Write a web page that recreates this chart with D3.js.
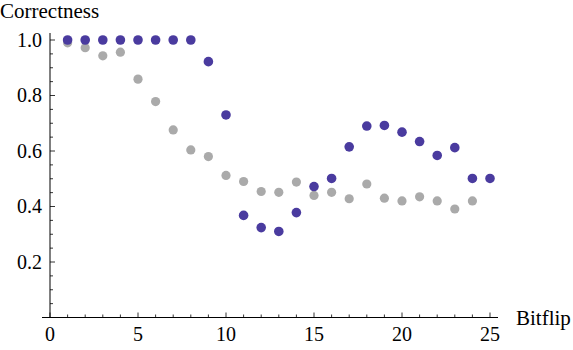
<!DOCTYPE html>
<html>
<head>
<meta charset="utf-8">
<script src="https://cdn.jsdelivr.net/npm/d3@7"></script>
<style>
  body { margin: 0; background: #fff; }
</style>
</head>
<body>
<script>
'use strict';

// bitflip positions
const bitflips = d3.range(1, 26);
// blue series (correctness per bitflip)
const blueValues = [1.0, 1.0, 1.0, 1.0, 1.0, 1.0, 1.0, 1.0, 0.922, 0.730,
  0.368, 0.324, 0.310, 0.378, 0.472, 0.501, 0.615, 0.690, 0.692, 0.668,
  0.634, 0.584, 0.612, 0.501, 0.501];
// gray series (bitflips 1..24)
const grayValues = [0.990, 0.972, 0.943, 0.956, 0.859, 0.778, 0.676, 0.604, 0.580, 0.512,
  0.490, 0.454, 0.451, 0.488, 0.440, 0.451, 0.428, 0.481, 0.430, 0.420,
  0.435, 0.420, 0.391, 0.420];
const xTicks = [0, 5, 10, 15, 20, 25];
const yTicks = [0.2, 0.4, 0.6, 0.8, 1.0];

const width = 573, height = 350;
const serif = '"Liberation Serif", "Times New Roman", "DejaVu Serif", serif';

const svg = d3.select('body').append('svg')
  .attr('width', width)
  .attr('height', height)
  .attr('font-family', serif);

const x = d3.scaleLinear().domain([0, 25]).range([50, 490]);
const y = d3.scaleLinear().domain([0, 1]).range([317.5, 40]);

// x axis: line plus ticks pointing up
const xAxisG = svg.append('g');
xAxisG.append('line')
  .attr('x1', 42).attr('x2', 498)
  .attr('y1', y(0)).attr('y2', y(0))
  .attr('stroke', '#000').attr('stroke-width', 1);
xAxisG.selectAll('.xminor')
  .data(d3.range(0, 26))
  .enter().append('line')
  .attr('x1', (d) => x(d)).attr('x2', (d) => x(d))
  .attr('y1', y(0))
  .attr('y2', (d) => y(0) - (d % 5 === 0 ? 5 : 3))
  .attr('stroke', '#000').attr('stroke-width', 0.8);
xAxisG.selectAll('.xlabel')
  .data(xTicks)
  .enter().append('text')
  .attr('x', (d) => x(d))
  .attr('y', 341)
  .attr('text-anchor', 'middle')
  .attr('font-size', 20)
  .text((d) => d);

// y axis: line plus ticks pointing right
const yAxisG = svg.append('g');
yAxisG.append('line')
  .attr('x1', x(0)).attr('x2', x(0))
  .attr('y1', 33).attr('y2', y(0))
  .attr('stroke', '#000').attr('stroke-width', 1);
yAxisG.selectAll('.yminor')
  .data(d3.range(1, 21).map((i) => i * 0.05))
  .enter().append('line')
  .attr('x1', x(0))
  .attr('x2', (d, i) => x(0) + ((i + 1) % 4 === 0 ? 5 : 3))
  .attr('y1', (d) => y(d)).attr('y2', (d) => y(d))
  .attr('stroke', '#000').attr('stroke-width', 0.8);
yAxisG.selectAll('.ylabel')
  .data(yTicks)
  .enter().append('text')
  .attr('x', 42)
  .attr('y', (d) => y(d) + 6.5)
  .attr('text-anchor', 'end')
  .attr('font-size', 20)
  .text((d) => d.toFixed(1));

// axis titles
svg.append('text')
  .attr('x', 0).attr('y', 18)
  .attr('font-size', 21)
  .text('Correctness');
svg.append('text')
  .attr('x', 516).attr('y', 325)
  .attr('font-size', 21)
  .text('Bitflip');

// gray points first, blue on top
svg.selectAll('.gray')
  .data(grayValues)
  .enter().append('circle')
  .attr('cx', (d, i) => x(bitflips[i]))
  .attr('cy', (d) => y(d))
  .attr('r', 4.6)
  .attr('fill', '#aaaaaa');

svg.selectAll('.blue')
  .data(blueValues)
  .enter().append('circle')
  .attr('cx', (d, i) => x(bitflips[i]))
  .attr('cy', (d) => y(d))
  .attr('r', 4.8)
  .attr('fill', '#4a3b9f');
</script>
</body>
</html>
